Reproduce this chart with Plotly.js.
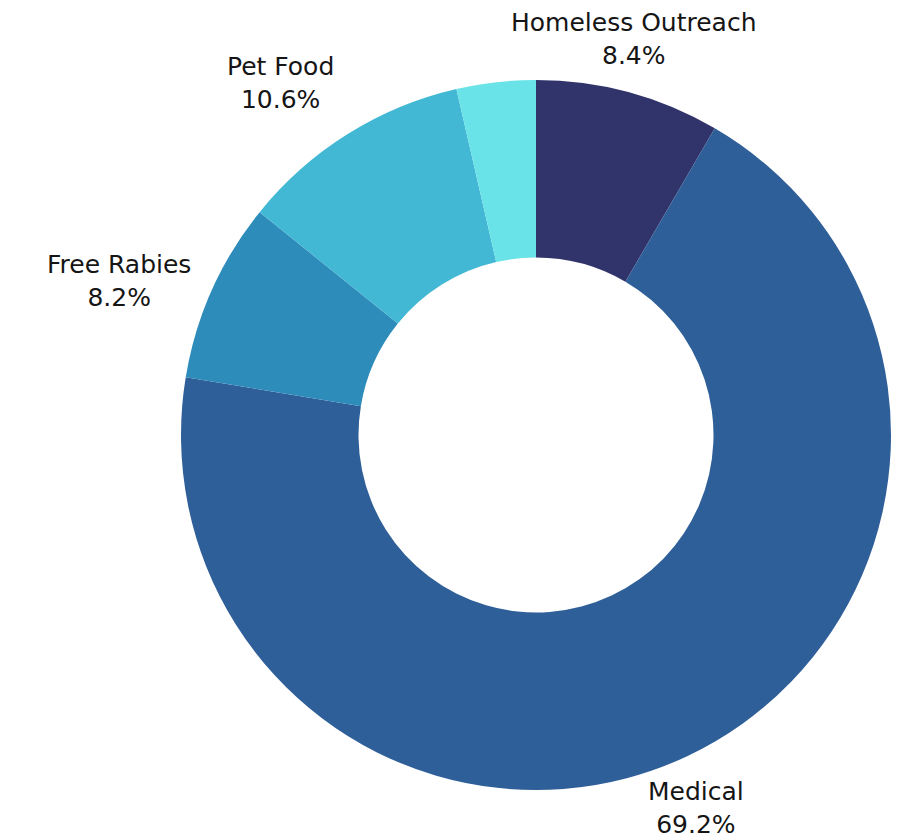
<!DOCTYPE html>
<html>
<head>
<meta charset="utf-8">
<script src="https://cdn.plot.ly/plotly-3.0.1.min.js"></script>
<style>html,body{margin:0;padding:0;background:#fff;}</style>
</head>
<body>
<div id="chart" style="width:898px;height:839px;"></div>
<script>
const labels = ["Homeless Outreach", "Medical", "Free Rabies", "Pet Food", "Other"];
const values = [8.4, 69.2, 8.2, 10.6, 3.6];
const showLabel = [true, true, true, true, false];
const colors = ["#31346B", "#2F5F98", "#2E8CBB", "#42B8D5", "#69E3E8"];

const total = values.reduce((a, b) => a + b, 0);
const labelRadius = 1.06;
const annotations = [];
let cum = 0;
values.forEach((v, i) => {
  const mid = (cum + v / 2) / total * 2 * Math.PI;
  cum += v;
  if (!showLabel[i]) return;
  const s = Math.sin(mid), c = Math.cos(mid);
  annotations.push({
    xref: 'paper', yref: 'paper',
    x: 0.5 + 0.5 * labelRadius * s,
    y: 0.5 + 0.5 * labelRadius * c,
    xanchor: Math.abs(s) < 0.5 ? 'center' : (s > 0 ? 'left' : 'right'),
    yanchor: Math.abs(c) < 0.5 ? 'middle' : (c > 0 ? 'bottom' : 'top'),
    text: labels[i] + '<br>' + (v / total * 100).toFixed(1) + '%',
    showarrow: false,
    align: 'center',
    font: {family: 'DejaVu Sans, sans-serif', size: 25, color: '#151515'}
  });
});

Plotly.newPlot('chart', [{
  type: 'pie',
  labels: labels,
  values: values,
  textinfo: 'none',
  hole: 0.5,
  sort: false,
  direction: 'clockwise',
  rotation: 0,
  marker: {colors: colors, line: {width: 0}},
  automargin: false
}], {
  width: 898, height: 839,
  margin: {l: 181, r: 7, t: 80, b: 49},
  showlegend: false,
  paper_bgcolor: '#fff',
  annotations: annotations
}, {displayModeBar: false});
</script>
</body>
</html>
